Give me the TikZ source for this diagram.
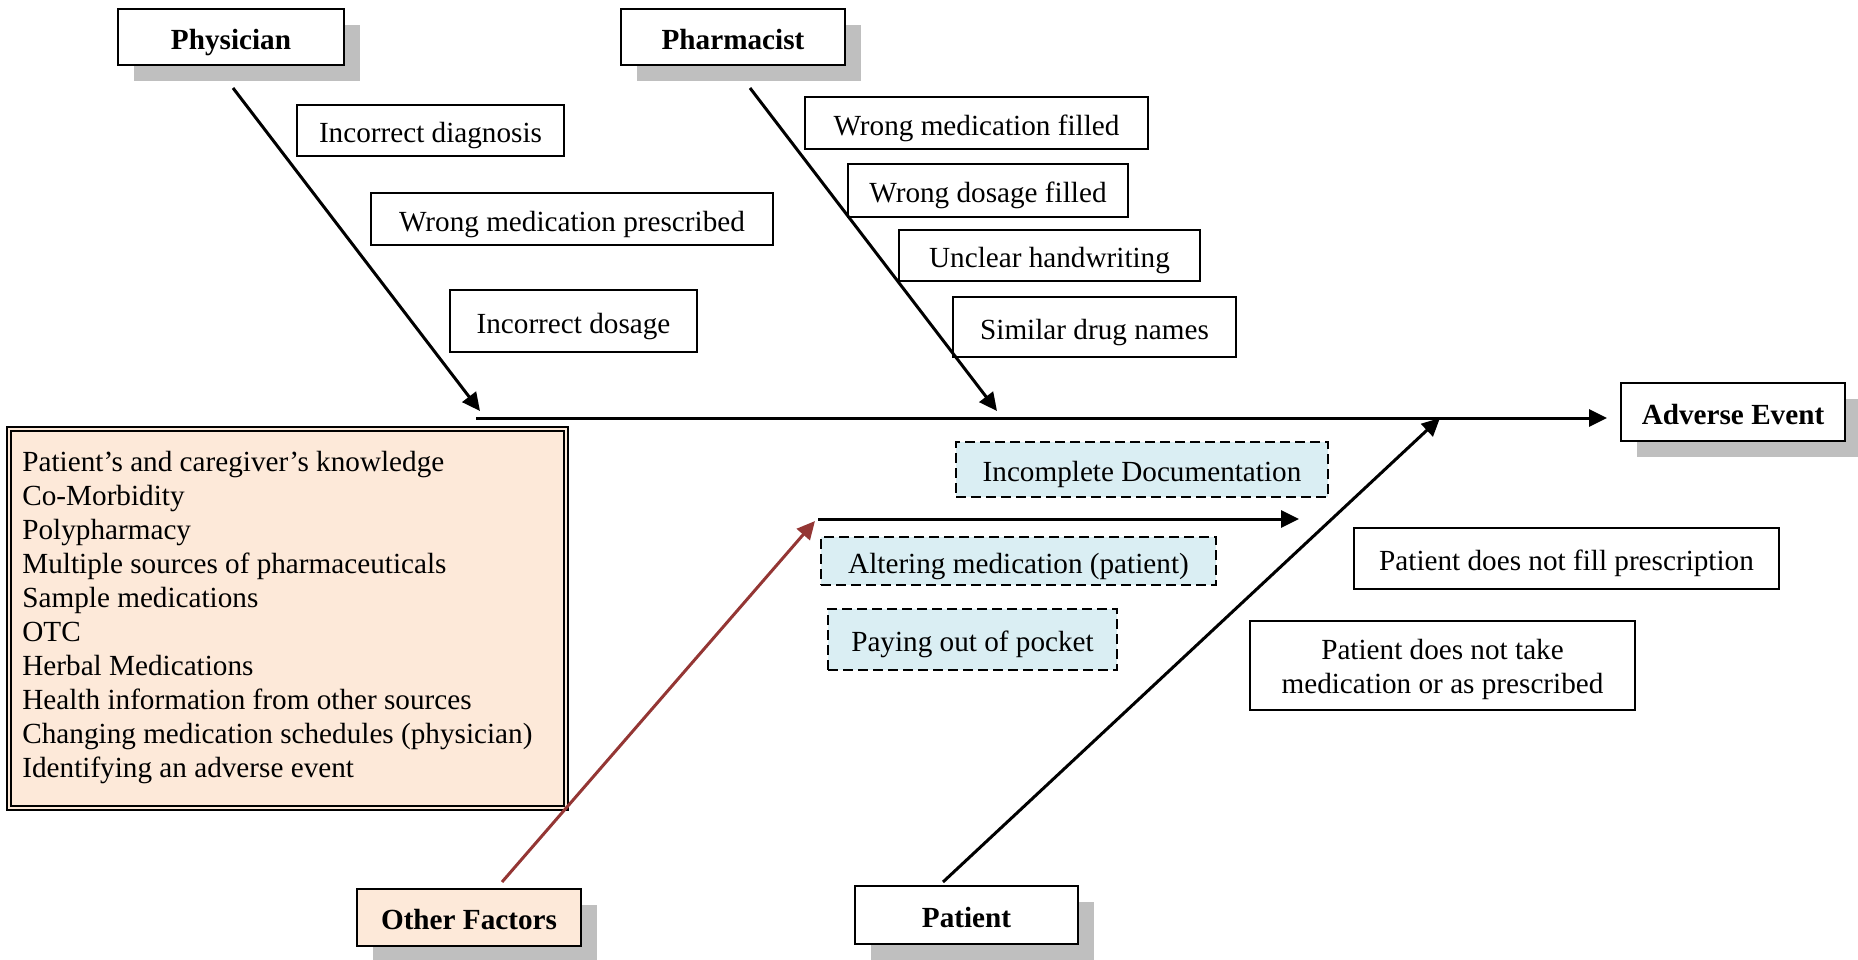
\documentclass[tikz,border=0pt]{standalone}
\usepackage{fontspec}
\setmainfont{Liberation Serif}
\usetikzlibrary{arrows.meta,shadows}

\definecolor{shadowgray}{RGB}{191,191,191}
\definecolor{peach}{HTML}{FDE9D9}
\definecolor{paleblue}{HTML}{DAEEF3}
\definecolor{darkred}{HTML}{943634}

% box given by its corners: style, name, x1, y1, x2, y2, text
\newcommand\fbnode[7]{%
  \node[#1, minimum width={(#5-#3)*0.5pt}, minimum height={(#6-#4)*0.5pt}]
    (#2) at ({(#3+#5)/2},{(#4+#6)/2}) {#7};}

\tikzset{
  txt/.style={font=\fontsize{14.6}{17}\selectfont},
  cause/.style={txt, draw=black, line width=1pt, fill=white, inner sep=0pt,
    text height=15pt, text depth=3pt},
  category/.style={cause, font=\fontsize{14.6}{17}\selectfont\bfseries,
    drop shadow={shadow xshift=8pt, shadow yshift=-8pt, fill=shadowgray, opacity=1}},
  factor/.style={cause, fill=paleblue, dash pattern=on 5pt off 2.5pt},
  bone/.style={line width=1.5pt, -{Triangle[length=9pt,width=8.5pt]}},
}

\begin{document}
\begin{tikzpicture}[x=0.5pt, y=-0.5pt]
\useasboundingbox (0,0) rectangle (1858,959);

% category heads
\fbnode{category}{phys}{118}{9}{344}{65}{Physician}
\fbnode{category}{pharm}{621}{9}{845}{65}{Pharmacist}
\fbnode{category}{adverse}{1621}{383}{1845}{441}{Adverse Event}
\fbnode{category, fill=peach}{otherf}{357}{889}{581}{946}{Other Factors}
\fbnode{category}{patient}{855}{886}{1078}{944}{Patient}

% physician causes
\fbnode{cause}{diag}{297}{105}{564}{156}{Incorrect diagnosis}
\fbnode{cause}{wrongrx}{371}{193}{773}{245}{Wrong medication prescribed}
\fbnode{cause}{dosage}{450}{290}{697}{352}{Incorrect dosage}

% pharmacist causes
\fbnode{cause}{filled}{805}{97}{1148}{149}{Wrong medication filled}
\fbnode{cause}{dosefill}{848}{164}{1128}{217}{Wrong dosage filled}
\fbnode{cause}{handw}{899}{230}{1200}{281}{Unclear handwriting}
\fbnode{cause}{similar}{953}{297}{1236}{357}{Similar drug names}

% patient causes
\fbnode{cause}{nofill}{1354}{528}{1779}{589}{Patient does not fill prescription}
\fbnode{cause, text height=, text depth=, align=center}{notake}{1250}{621}{1635}{710}%
  {\rule{0pt}{14.5pt}Patient does not take\\medication or as prescribed}

% other factors along the middle bone
\fbnode{factor}{incomplete}{956}{442}{1328}{497}{Incomplete Documentation}
\fbnode{factor}{altering}{821}{537}{1216}{585}{Altering medication (patient)}
\fbnode{factor}{paying}{828}{609}{1117}{670}{Paying out of pocket}

% list of other factors in a double-ruled box
\node[draw=black, line width=0.9pt, double=peach, double distance=1.4pt,
      fill=peach, inner sep=0pt, minimum width={(566-9)*0.5pt},
      minimum height={(808-429)*0.5pt}] (others) at ({(9+566)/2},{(429+808)/2}) {};
\node[txt, anchor=north west, align=left, inner sep=0pt] (otherlist) at (22,451)
  {Patient’s and caregiver’s knowledge\\
   Co-Morbidity\\
   Polypharmacy\\
   Multiple sources of pharmaceuticals\\
   Sample medications\\
   OTC\\
   Herbal Medications\\
   Health information from other sources\\
   Changing medication schedules (physician)\\
   Identifying an adverse event};

% spine and bones
\coordinate (spineL) at (476,418);
\coordinate (physHead) at (480,411);
\coordinate (pharmHead) at (997,411);
\coordinate (patHead) at (1440,418);
\coordinate (midL) at (818,519);
\coordinate (midR) at (1299,519);
\coordinate (redHead) at (815,521);

\draw[bone] (spineL) -- ([xshift=-6.5pt]adverse.west |- spineL);
\draw[bone] ([xshift=1pt,yshift=-11pt]phys.south) -- (physHead);
\draw[bone] ([xshift=8.5pt,yshift=-11pt]pharm.south) -- (pharmHead);
\draw[bone] ([xshift=-11.75pt,yshift=1.5pt]patient.north) -- (patHead);
\draw[bone] (midL) -- (midR);
\draw[bone, draw=darkred, fill=darkred] ([xshift=16.5pt,yshift=3pt]otherf.north) -- (redHead);
\end{tikzpicture}
\end{document}
